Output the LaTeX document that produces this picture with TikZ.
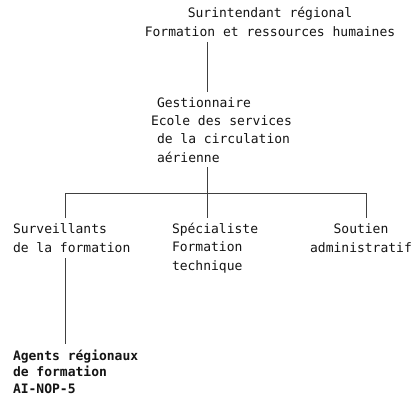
\documentclass[tikz,border=0pt]{standalone}
\usepackage{fontspec}
\setmonofont{DejaVu Sans Mono}
\begin{document}
\begin{tikzpicture}[x=1pt,y=-1pt,
  lbl/.style={inner sep=0pt, outer sep=0pt, text=black!92},
  conn/.style={draw=black!75, line width=0.65pt}]
\useasboundingbox (0,0) rectangle (417,404);
\fill[white] (0,0) rectangle (417,404);

% text blocks (base anchor = baseline of last line)
\node[lbl, anchor=base, align=center, font=\ttfamily\fontsize{13}{19}\selectfont] (top) at (270,37)
  {Surintendant régional\\Formation et ressources humaines};
\node[lbl, anchor=base west, align=left, font=\ttfamily\fontsize{13}{18.3}\selectfont] (gest) at (157,162)
  {Gestionnaire\\\hspace*{-6pt}Ecole des services\\de la circulation\\aérienne};
\node[lbl, anchor=base west, align=left, font=\ttfamily\fontsize{13}{18.8}\selectfont] (surv) at (13,252)
  {Surveillants\\de la formation};
\node[lbl, anchor=base west, align=left, font=\ttfamily\fontsize{13}{18.5}\selectfont] (spec) at (172,270)
  {Spécialiste\\Formation\\technique};
\node[lbl, anchor=base, align=center, font=\ttfamily\fontsize{13}{18.8}\selectfont] (sout) at (361,252)
  {Soutien\\administratif};
\node[lbl, anchor=base west, align=left, font=\ttfamily\bfseries\fontsize{13}{16.5}\selectfont] (agen) at (13,393)
  {Agents régionaux\\de formation\\AI-NOP-5};

% connector points
\coordinate (c1) at (207,42);
\coordinate (c2) at (207,92);
\coordinate (c3) at (207,167);
\coordinate (busL) at (65,193);
\coordinate (busC) at (207,193);
\coordinate (busR) at (366,193);
\coordinate (dL) at (65,218);
\coordinate (dC) at (207,218);
\coordinate (dR) at (366,218);
\coordinate (a1) at (65,258);
\coordinate (a2) at (65,344);

\draw[conn] (c1) -- (c2);
\draw[conn] (c3) -- (busC);
\draw[conn] (dL) -- (busL) -- (busR) -- (dR);
\draw[conn] (busC) -- (dC);
\draw[conn] (a1) -- (a2);
\end{tikzpicture}
\end{document}
